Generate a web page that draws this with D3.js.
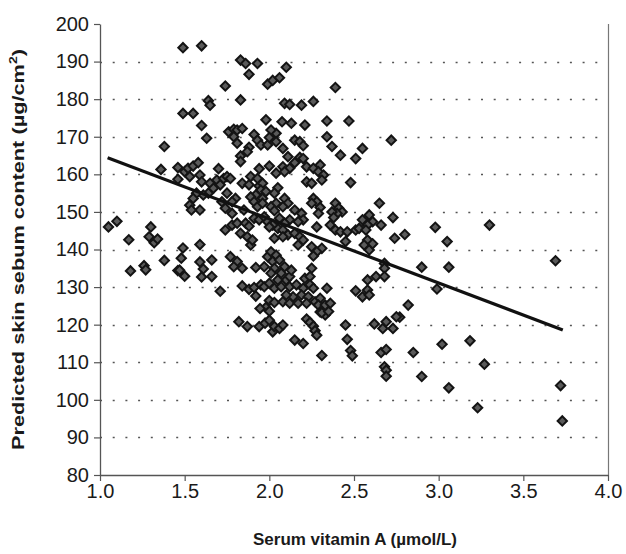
<!DOCTYPE html>
<html>
<head>
<meta charset="utf-8">
<script src="https://cdn.jsdelivr.net/npm/d3@7"></script>
<style>
  html, body { margin: 0; padding: 0; background: #fff; }
  svg { display: block; font-family: "Liberation Sans", Arial, sans-serif; }
</style>
</head>
<body>
<div id="chart"></div>
<script>
// ---- data (serum vitamin A [µmol/L], predicted sebum [µg/cm²]) ----
const observations = [
  [1.05,146],[1.10,147.5],[1.17,142.6],[1.18,134.3],[1.26,135.7],[1.27,134.6],[1.29,143.4],[1.30,146],
  [1.32,141.8],[1.34,142.8],[1.38,137.1],[1.38,167.4],[1.36,161.3],[1.46,161.8],[1.46,158.7],[1.46,134.4],
  [1.49,193.7],[1.60,194.2],[1.49,176.2],[1.55,176.2],[1.64,179.6],[1.65,178.4],[1.60,173],[1.63,169.6],
  [1.50,160.7],[1.53,159.4],[1.52,161.6],[1.55,162.2],[1.58,163.1],[1.59,159.8],[1.60,158],[1.65,157.6],
  [1.69,158.5],[1.70,161.5],[1.71,157.2],[1.67,156.3],[1.64,155],[1.61,154.5],[1.57,155],[1.55,153.6],
  [1.53,151.8],[1.59,150.5],[1.54,150.5],[1.75,155],[1.72,152.7],[1.74,151],[1.73,158.9],[1.75,159.4],
  [1.49,140.4],[1.48,137.7],[1.47,134.5],[1.50,132.9],[1.59,141.3],[1.59,136.7],[1.61,134.8],[1.60,132.7],
  [1.66,137.2],[1.66,132.8],[1.71,128.9],[1.74,145.2],
  [1.74,183.5],[1.83,190.4],[1.86,189.5],[1.88,186.6],[1.93,189.5],[1.83,179.8],
  [1.76,171.3],[1.79,172],[1.81,171.8],[1.84,172.2],[1.79,170],[1.81,168.3],[1.83,164.9],[1.83,163.4],
  [1.88,167.2],[1.91,170.6],[1.87,166],[1.93,169.1],[1.95,167.8],[1.99,167.8],[1.94,161.5],[1.98,174.5],
  [1.99,184],[2.02,185],[2.06,185.7],[2.10,188.5],
  [1.77,158.9],[1.84,157.6],[1.89,159.4],[1.94,156.9],[1.80,153.6],[1.78,152.7],[1.78,149.6],[1.88,157.2],
  [1.93,158.9],[1.96,157.6],[1.95,155.8],[1.98,155.4],[1.92,154.5],[1.89,154],[1.96,153.6],[1.91,152.7],
  [1.85,150.5],[1.93,151.4],[1.96,152.3],[1.91,148.3],[1.94,147.9],[1.97,148.7],[1.99,147.4],[1.78,146.5],
  [1.81,147],[1.86,147],[1.88,146.2],[1.83,144.3],[1.87,143.4],[1.89,141.2],[1.90,142.5],
  [1.77,138.1],[1.81,136.8],[1.79,135.4],[1.84,135],[1.92,135.2],[1.97,135.4],[1.99,138.1],
  [1.84,130.3],[1.88,129.4],[1.91,129.9],[1.92,127.6],[1.95,130.6],[1.97,130.1],
  [1.82,120.8],[1.87,119.5],[1.94,119.5],[1.975,120.4],[2.00,121.2],[2.02,118.1],[2.03,119.5],
  [2.00,126.4],[2.03,125.9],[1.98,124.6],[1.945,124.3],[2.00,123.6],
  [2.39,183.1],[2.09,178.9],[2.12,178.6],[2.19,178.4],[2.26,179.4],[2.075,174],[2.13,173.6],[2.21,173.1],
  [2.34,174.2],[2.47,174.2],[2.72,169.1],[2.34,170],[2.37,167.4],[2.42,165.1],[2.51,164.2],[2.55,166.9],
  [2.04,170.9],[2.01,171.8],[2.00,169.8],[2.08,166.9],[2.04,168.7],[2.15,169.1],[2.18,168.7],[2.20,167.6],
  [2.11,164.7],[2.18,164.5],[2.20,164.2],[2.15,163.1],[2.22,162],[2.26,161.6],[2.30,162.5],[2.29,160.7],
  [2.32,159.8],[2.31,158.5],[2.08,162],[2.12,161.6],[2.00,162.2],[2.04,160.3],[2.09,160.7],[2.22,158],
  [2.25,157.6],[2.48,157.8],
  [2.05,156.4],[2.03,155],
  [2.26,153.6],[2.28,152.7],[2.25,152.3],[2.30,151.2],[2.29,149.6],
  [2.09,153.6],[2.11,152.3],[2.08,151.4],[2.04,152.3],[2.01,151.4],[2.03,150.3],
  [2.15,150.5],[2.19,149.6],[2.20,147.9],[2.17,147.4],[2.12,147.9],[2.09,147],[2.06,148.3],[2.05,145.6],
  [2.02,146.5],[2.08,145.2],
  [2.39,152.3],[2.41,151],[2.43,150],[2.40,149.6],[2.37,150],[2.38,148.5],
  [2.65,152.3],[2.59,149.2],[2.61,147.4],[2.58,146.5],[2.55,147.9],[2.66,146.5],[2.73,148.5],[2.74,143],
  [2.28,146],[2.36,146.5],[2.39,145.2],[2.42,144.7],[2.46,144.7],[2.51,145.2],[2.53,145.6],[2.57,145.2],
  [2.45,142.1],[2.58,142.5],[2.56,141.2],[2.59,139.9],[2.68,136.3],[2.68,135],[2.61,141.5],[2.80,144],
  [2.00,146],[2.11,143.9],[2.08,143.4],[2.03,143],[2.15,144.3],[2.18,143.4],[2.17,141.2],[2.20,142.5],
  [2.25,140.7],[2.31,140.3],[2.28,139.4],[2.26,138.3],
  [2.98,145.9],[3.05,142.1],[3.30,146.5],
  [2.01,139.4],[2.04,138.5],[2.02,136.8],[2.06,137.2],[2.09,135.4],[2.03,135],[2.01,133.7],[2.07,133.7],
  [2.10,131.9],[2.12,132.8],[2.05,131.9],[2.00,131],[2.03,129.7],[2.25,135],[2.21,132.3],[2.24,132.8],
  [2.13,134.5],[2.07,130.1],[2.34,129.7],
  [2.12,130.1],[2.16,130.6],[2.20,129.7],[2.24,130.6],[2.26,129.7],[2.19,127.9],[2.23,127.4],[2.14,127.4],
  [2.10,127.9],[2.08,126.1],[2.12,125.7],[2.17,125.7],[2.22,125.7],[2.27,126.1],[2.30,127],[2.29,125.2],
  [2.06,119],[2.08,119.9],[2.22,121.5],[2.24,120.6],[2.26,119.6],[2.27,118.4],[2.28,117.2],[2.15,115.9],
  [2.20,115],[2.31,111.8],[2.30,123.4],[2.33,122.6],[2.31,123.2],[2.35,123.5],[2.33,125.2],[2.36,125.7],
  [2.51,129],[2.55,127.4],[2.58,129.2],[2.59,127.9],[2.63,132.8],[2.68,132.8],[2.58,131.9],[2.82,125.2],
  [2.77,122],[2.45,119.9],[2.46,116.1],[2.48,113.1],[2.49,111.7],[2.62,120.2],[2.67,119],[2.69,120.8],
  [2.73,119],[2.75,122.1],[2.66,112.6],[2.69,113.4],[2.68,108.8],[2.69,107.9],[2.69,106.3],[2.85,112.6],
  [2.90,135.3],[3.06,135.3],[2.99,129.5],[3.69,137],[3.02,114.8],[3.185,115.7],[3.27,109.5],[2.90,106.2],
  [3.06,103.2],[3.23,97.9],[3.72,103.8],[3.73,94.4]
];
const fitX = [1.045, 3.733];
const fitY = [164.4, 118.6];
const xTicks = [1.0, 1.5, 2.0, 2.5, 3.0, 3.5, 4.0];
const yTicks = [80, 90, 100, 110, 120, 130, 140, 150, 160, 170, 180, 190, 200];
const xTitle = "Serum vitamin A (µmol/L)";
const yTitle = "Predicted skin sebum content (µg/cm";

// ---- layout ----
const W = 626, H = 554;
const m = { left: 100, top: 24, right: 18, bottom: 79 };
const iw = W - m.left - m.right, ih = H - m.top - m.bottom;

const svg = d3.select("#chart").append("svg").attr("width", W).attr("height", H);
const g = svg.append("g").attr("transform", `translate(${m.left},${m.top})`);

const x = d3.scaleLinear().domain([1, 4]).range([0, iw]);
const y = d3.scaleLinear().domain([80, 200]).range([ih, 0]);

// gridlines
g.append("g").selectAll("line").data(yTicks.filter(v => v > 80 && v < 200)).join("line")
  .attr("x1", 0).attr("x2", iw)
  .attr("y1", d => Math.round(y(d)) + 0.5).attr("y2", d => Math.round(y(d)) + 0.5)
  .attr("stroke", "#555").attr("stroke-width", 1.3)
  .attr("stroke-dasharray", "2,10.7");

// right border
g.append("line").attr("x1", iw + 0.5).attr("x2", iw + 0.5).attr("y1", 0).attr("y2", ih)
  .attr("stroke", "#777").attr("stroke-width", 1.2);

// axes
const yAxis = d3.axisLeft(y).tickValues(yTicks).tickFormat(d3.format("d")).tickSize(6).tickSizeOuter(0);
const xAxis = d3.axisBottom(x).tickValues(xTicks).tickFormat(d3.format(".1f")).tickSize(6).tickSizeOuter(0);

const ya = g.append("g").call(yAxis);
const xa = g.append("g").attr("transform", `translate(0,${ih})`).call(xAxis);
[ya, xa].forEach(a => {
  a.attr("font-size", null);
  a.select(".domain").attr("stroke", "#555").attr("stroke-width", 1.3);
  a.selectAll(".tick line").attr("stroke", "#555").attr("stroke-width", 1.2);
  a.selectAll("text").attr("fill", "#1a1a1a").attr("font-size", 20).style("font-size", "20px")
    .style("font-family", '"Liberation Sans", Arial, sans-serif');
});
ya.selectAll("text").attr("x", -11);
xa.selectAll("text").attr("y", 9);

// points (diamonds)
const s = 6.6;
g.append("g").selectAll("rect").data(observations).join("rect")
  .attr("x", -s / 2).attr("y", -s / 2).attr("width", s).attr("height", s)
  .attr("transform", d => `translate(${x(d[0])},${y(d[1])}) rotate(45)`)
  .attr("fill", "#5a5a5a").attr("stroke", "#141414").attr("stroke-width", 2);

// regression line
g.append("line")
  .attr("x1", x(fitX[0])).attr("y1", y(fitY[0]))
  .attr("x2", x(fitX[1])).attr("y2", y(fitY[1]))
  .attr("stroke", "#111").attr("stroke-width", 3.2);

// titles
svg.append("text").attr("x", m.left + iw / 2 + 1).attr("y", 545)
  .attr("text-anchor", "middle").attr("fill", "#1a1a1a")
  .style("font-size", "17px").style("font-weight", "bold").text(xTitle);

const yt = svg.append("text")
  .attr("transform", `translate(24,${m.top + ih / 2}) rotate(-90) scale(1.28,1)`)
  .attr("text-anchor", "middle").attr("fill", "#1a1a1a")
  .style("font-size", "17px").style("font-weight", "bold");
yt.append("tspan").text(yTitle);
yt.append("tspan").attr("dy", -7).style("font-size", "11px").text("2");
yt.append("tspan").attr("dy", 7).text(")");
</script>
</body>
</html>
